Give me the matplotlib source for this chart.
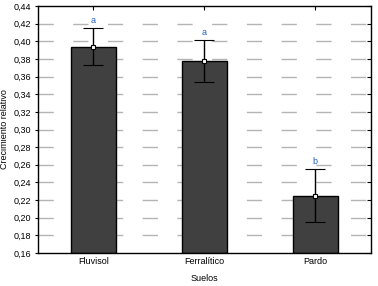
import numpy as np
import matplotlib.pyplot as plt
from matplotlib.ticker import FuncFormatter

suelos = ['Fluvisol', 'Ferralítico', 'Pardo']
media = np.array([0.393, 0.378, 0.225])
sup = np.array([0.415, 0.401, 0.255])
inf = np.array([0.373, 0.354, 0.195])
letras = ['a', 'a', 'b']
yticks = np.arange(0.16, 0.441, 0.02)

plt.rcParams['font.family'] = ['Liberation Sans', 'DejaVu Sans']
plt.rcParams['font.size'] = 6.5

fig = plt.figure(figsize=(3.78, 2.86), dpi=100)
ax = fig.add_axes([0.1005, 0.1154, 0.8805, 0.8636])

x = np.arange(len(suelos))
for y in yticks[1:-1]:
    ax.axhline(y, color='#b4b4b4', lw=1, dashes=(11, 14), zorder=0)

ax.bar(x, media - 0.16, bottom=0.16, width=0.4, color='#404040',
       edgecolor='black', lw=1, zorder=2)
ax.errorbar(x, media, yerr=[media - inf, sup - media], fmt='s', ms=3.5,
            mfc='white', mec='black', mew=0.8, ecolor='black', elinewidth=1,
            capsize=7, capthick=1, zorder=3)
for xi, s, l in zip(x, sup, letras):
    ax.text(xi, s + 0.004, l, ha='center', va='bottom', color='#2060c0', fontsize=6.5)

ax.set_xlim(-0.5, 2.5)
ax.set_ylim(0.16, 0.44)
ax.set_yticks(yticks)
ax.yaxis.set_major_formatter(FuncFormatter(lambda v, p: f'{v:.2f}'.replace('.', ',')))
ax.set_xticks(x)
ax.set_xticklabels(suelos)
ax.tick_params(direction='in', length=3, width=0.8, top=True, right=True, pad=3)
ax.tick_params(axis='y', which='both', left=True)
ax.yaxis.set_tick_params(direction='out', length=2)
ax.tick_params(axis='y', right=True)
for t in ax.yaxis.get_ticklines()[1::2]:
    t.set_marker(0)
    t.set_markersize(3)
for sp in ax.spines.values():
    sp.set_linewidth(1)
ax.set_xlabel('Suelos', labelpad=6)
ax.set_ylabel('Crecimiento relativo', labelpad=3)

fig.savefig('out.png', dpi=100)
